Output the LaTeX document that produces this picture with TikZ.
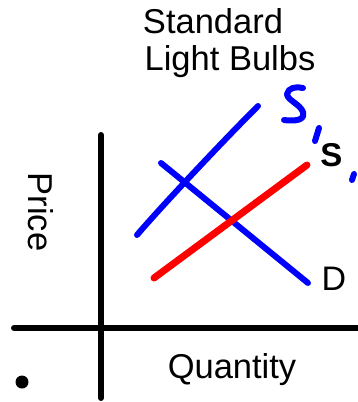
\documentclass[tikz,border=0pt]{standalone}
\usepackage{fontspec}
\setmainfont{Liberation Sans}
\begin{document}
\begin{tikzpicture}[x=1pt,y=-1pt,
  axis/.style={line width=6pt,line cap=round,black},
  bluecurve/.style={line width=6pt,line cap=round,line join=round,blue},
  redcurve/.style={line width=7pt,line cap=round,red},
  lbl/.style={inner sep=0pt,font=\fontsize{34.5}{40}\selectfont},
  curvelbl/.style={inner sep=0pt,font=\fontsize{34}{40}\selectfont}]
\useasboundingbox (0,0) rectangle (358,402);
% title
\node[lbl,anchor=base] (title1) at (213,33) {Standard};
\node[lbl,anchor=base] (title2) at (230,70) {Light Bulbs};
% axes
\coordinate (ytop) at (101,135);
\coordinate (ybot) at (101,398);
\coordinate (xleft) at (14,328);
\coordinate (xright) at (362,328);
\draw[axis] (ytop) -- (ybot);
\draw[axis] (xleft) -- (xright);
\node[lbl,rotate=-90] (price) at (41,212) {Price};
\node[lbl,anchor=base] (qty) at (232,378) {Quantity};
\fill[black] (22,382) circle (6.5);
% curves
\coordinate (s1a) at (137,235);
\coordinate (s1m) at (183,182);
\coordinate (s1b) at (258,106);
\draw[bluecurve] (s1a) .. controls (160,208) and (220,144) .. (s1b);
\coordinate (da) at (161,163);
\coordinate (db) at (308,283);
\draw[bluecurve] (da) -- (db);
\coordinate (s2a) at (154,278);
\coordinate (s2b) at (307,165);
\draw[redcurve] (s2a) -- (s2b);
\node[curvelbl,font=\fontsize{33}{40}\selectfont\bfseries] (slbl) at (331.5,155) {S};
\node[curvelbl] (dlbl) at (334,278.5) {D};
% handwritten S'
\draw[bluecurve] (303,88) .. controls (296,86) and (288,88) .. (287,94)
  .. controls (287,100) and (300,104) .. (303,112)
  .. controls (305,118) and (300,122) .. (284,120);
\draw[bluecurve] (319,128) -- (315,141);
\draw[bluecurve] (354,174) -- (352,180);
\end{tikzpicture}
\end{document}
